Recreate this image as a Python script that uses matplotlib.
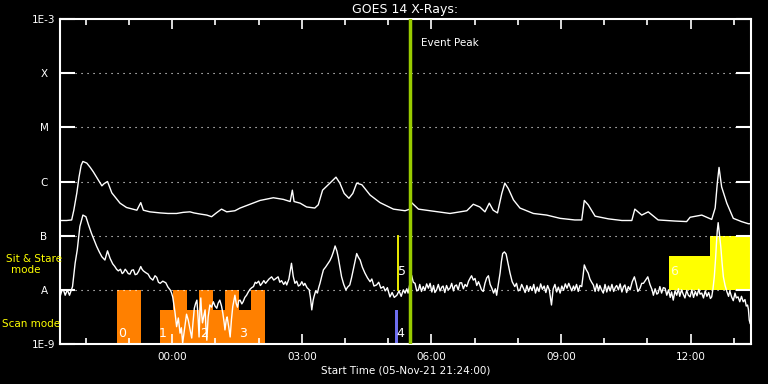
"""GOES 14 X-ray flux plot with scan / sit & stare mode blocks"""
import numpy as np
import matplotlib
matplotlib.use("Agg")
import matplotlib.pyplot as plt

# time axis: hours since start (05-Nov-21 21:24:00), 16 h shown
start_hour = 21.4
t_span = 16.0

# long channel (upper curve), log10 flux in W/m^2
long_t = [0.00, 0.15, 0.27, 0.32, 0.39, 0.44, 0.49, 0.53, 0.62, 0.70, 0.77, 0.87,
          0.97, 1.02, 1.10, 1.20, 1.39, 1.54, 1.78, 1.87, 1.93, 2.08, 2.32, 2.50,
          2.70, 2.85, 3.01, 3.10, 3.24, 3.40, 3.51, 3.62, 3.74, 3.86, 4.05, 4.17,
          4.40, 4.63, 4.94, 5.17, 5.33, 5.38, 5.42, 5.56, 5.71, 5.90, 5.98, 6.08,
          6.25, 6.39, 6.48, 6.58, 6.69, 6.78, 6.87, 6.99, 7.18, 7.41, 7.72, 7.99,
          8.10, 8.14, 8.30, 8.57, 9.03, 9.42, 9.57, 9.72, 9.84, 9.94, 10.03, 10.13,
          10.23, 10.30, 10.38, 10.50, 10.65, 10.96, 11.27, 11.58, 11.92, 12.08, 12.14, 12.23,
          12.39, 12.70, 13.01, 13.24, 13.31, 13.47, 13.62, 13.85, 14.24, 14.51, 14.59, 14.86,
          15.09, 15.17, 15.22, 15.26, 15.32, 15.44, 15.59, 15.78, 15.94, 16.00]
long_log = [-6.72, -6.72, -6.71, -6.53, -6.21, -5.92, -5.70, -5.63, -5.66, -5.74, -5.82, -5.95,
            -6.08, -6.04, -6.00, -6.21, -6.40, -6.48, -6.53, -6.39, -6.53, -6.56, -6.58, -6.59,
            -6.59, -6.57, -6.56, -6.58, -6.60, -6.62, -6.65, -6.58, -6.51, -6.56, -6.54, -6.49,
            -6.42, -6.35, -6.30, -6.33, -6.37, -6.16, -6.37, -6.40, -6.47, -6.49, -6.43, -6.16,
            -6.03, -5.92, -6.03, -6.22, -6.31, -6.22, -6.03, -6.06, -6.25, -6.39, -6.51, -6.54,
            -6.51, -6.39, -6.51, -6.54, -6.59, -6.54, -6.42, -6.47, -6.56, -6.40, -6.53, -6.58,
            -6.22, -6.03, -6.13, -6.34, -6.49, -6.59, -6.62, -6.68, -6.71, -6.71, -6.35, -6.43,
            -6.64, -6.69, -6.72, -6.72, -6.51, -6.62, -6.56, -6.71, -6.73, -6.74, -6.66, -6.62,
            -6.70, -6.49, -6.03, -5.74, -6.10, -6.40, -6.68, -6.74, -6.78, -6.78]

# short channel (lower curve), log10 flux in W/m^2
short_t = [0.00, 0.04, 0.08, 0.12, 0.17, 0.22, 0.29, 0.35, 0.40, 0.46, 0.53, 0.60,
           0.66, 0.73, 0.79, 0.85, 0.91, 0.97, 1.04, 1.10, 1.16, 1.22, 1.27, 1.31,
           1.35, 1.40, 1.44, 1.47, 1.51, 1.54, 1.58, 1.62, 1.66, 1.70, 1.74, 1.78,
           1.82, 1.87, 1.90, 1.93, 1.98, 2.04, 2.09, 2.15, 2.20, 2.24, 2.28, 2.32,
           2.38, 2.45, 2.50, 2.55, 2.58, 2.61, 2.66, 2.70, 2.74, 2.78, 2.81, 2.84,
           2.89, 2.93, 2.97, 3.01, 3.05, 3.08, 3.11, 3.14, 3.17, 3.20, 3.22, 3.24,
           3.26, 3.28, 3.30, 3.33, 3.36, 3.38, 3.40, 3.43, 3.47, 3.51, 3.55, 3.59,
           3.63, 3.66, 3.70, 3.74, 3.77, 3.80, 3.82, 3.85, 3.87, 3.91, 3.94, 3.97,
           4.00, 4.03, 4.05, 4.08, 4.11, 4.14, 4.17, 4.21, 4.24, 4.28, 4.32, 4.36,
           4.40, 4.44, 4.48, 4.52, 4.55, 4.60, 4.64, 4.67, 4.72, 4.76, 4.79, 4.84,
           4.90, 4.95, 5.00, 5.05, 5.09, 5.13, 5.18, 5.22, 5.25, 5.30, 5.36, 5.40,
           5.44, 5.48, 5.52, 5.56, 5.60, 5.64, 5.67, 5.72, 5.77, 5.80, 5.83, 5.86,
           5.88, 5.92, 5.96, 5.99, 6.02, 6.06, 6.10, 6.15, 6.21, 6.25, 6.29, 6.33,
           6.37, 6.41, 6.44, 6.48, 6.52, 6.57, 6.62, 6.66, 6.71, 6.75, 6.79, 6.83,
           6.87, 6.91, 6.95, 7.00, 7.06, 7.12, 7.18, 7.22, 7.27, 7.33, 7.38, 7.43,
           7.49, 7.53, 7.58, 7.64, 7.69, 7.74, 7.80, 7.85, 7.90, 7.95, 7.99, 8.03,
           8.06, 8.10, 8.14, 8.18, 8.22, 8.26, 8.30, 8.33, 8.37, 8.41, 8.45, 8.49,
           8.53, 8.57, 8.61, 8.65, 8.68, 8.72, 8.76, 8.80, 8.84, 8.87, 8.91, 8.95,
           8.99, 9.03, 9.07, 9.11, 9.14, 9.18, 9.22, 9.26, 9.30, 9.34, 9.38, 9.42,
           9.46, 9.50, 9.53, 9.57, 9.61, 9.65, 9.69, 9.72, 9.76, 9.80, 9.84, 9.88,
           9.92, 9.96, 10.00, 10.04, 10.08, 10.11, 10.15, 10.19, 10.22, 10.25, 10.29, 10.33,
           10.37, 10.42, 10.47, 10.53, 10.57, 10.61, 10.65, 10.69, 10.73, 10.77, 10.81, 10.85,
           10.89, 10.93, 10.97, 11.01, 11.05, 11.09, 11.13, 11.17, 11.21, 11.25, 11.29, 11.33,
           11.38, 11.42, 11.46, 11.50, 11.54, 11.58, 11.62, 11.66, 11.70, 11.74, 11.78, 11.81,
           11.85, 11.89, 11.92, 11.96, 12.00, 12.04, 12.08, 12.11, 12.14, 12.18, 12.23, 12.27,
           12.31, 12.35, 12.39, 12.43, 12.47, 12.50, 12.54, 12.58, 12.62, 12.66, 12.70, 12.74,
           12.78, 12.82, 12.86, 12.89, 12.93, 12.97, 13.01, 13.05, 13.08, 13.12, 13.16, 13.20,
           13.25, 13.30, 13.34, 13.38, 13.43, 13.47, 13.51, 13.56, 13.61, 13.66, 13.71, 13.74,
           13.78, 13.82, 13.85, 13.89, 13.93, 13.97, 14.01, 14.05, 14.09, 14.13, 14.16, 14.20,
           14.24, 14.28, 14.32, 14.35, 14.39, 14.43, 14.47, 14.51, 14.55, 14.59, 14.63, 14.67,
           14.71, 14.75, 14.79, 14.82, 14.86, 14.90, 14.94, 14.98, 15.02, 15.06, 15.09, 15.12,
           15.15, 15.18, 15.20, 15.22, 15.24, 15.27, 15.30, 15.33, 15.36, 15.40, 15.44, 15.48,
           15.51, 15.55, 15.59, 15.63, 15.66, 15.70, 15.74, 15.78, 15.82, 15.86, 15.89, 15.92,
           15.94, 15.96, 15.98]
short_log = [-8.13, -8.02, -8.00, -8.10, -8.00, -8.10, -7.94, -7.51, -7.26, -6.83, -6.62, -6.65,
             -6.80, -6.96, -7.08, -7.20, -7.30, -7.39, -7.45, -7.28, -7.42, -7.52, -7.57, -7.62,
             -7.65, -7.62, -7.70, -7.68, -7.62, -7.65, -7.70, -7.71, -7.64, -7.63, -7.72, -7.71,
             -7.66, -7.57, -7.62, -7.65, -7.68, -7.71, -7.78, -7.82, -7.74, -7.77, -7.86, -7.88,
             -7.84, -7.87, -7.95, -8.00, -8.05, -8.13, -8.40, -8.68, -8.52, -8.80, -8.70, -8.98,
             -8.68, -8.45, -8.56, -8.72, -8.89, -8.60, -8.34, -8.25, -8.19, -8.55, -8.87, -8.40,
             -8.15, -8.45, -8.61, -8.48, -8.37, -8.70, -8.93, -8.50, -8.28, -8.32, -8.22, -8.30,
             -8.34, -8.25, -8.19, -8.30, -8.43, -8.60, -8.74, -8.55, -8.50, -8.70, -8.87, -8.55,
             -8.31, -8.18, -8.10, -8.25, -8.32, -8.20, -8.19, -8.26, -8.22, -8.14, -8.10, -8.04,
             -7.99, -7.96, -7.94, -7.86, -7.88, -7.84, -7.92, -7.89, -7.83, -7.88, -7.85, -7.80,
             -7.76, -7.82, -7.79, -7.76, -7.86, -7.83, -7.90, -7.85, -7.91, -7.80, -7.51, -7.75,
             -7.88, -7.84, -7.93, -7.91, -7.85, -7.92, -7.88, -7.96, -8.00, -8.15, -8.37, -8.20,
             -8.13, -8.02, -8.06, -7.96, -7.88, -7.75, -7.63, -7.58, -7.51, -7.46, -7.39, -7.30,
             -7.19, -7.28, -7.39, -7.58, -7.76, -7.90, -8.00, -7.95, -7.91, -7.78, -7.63, -7.48,
             -7.33, -7.40, -7.45, -7.58, -7.69, -7.78, -7.85, -7.80, -7.93, -7.91, -7.86, -7.97,
             -7.94, -8.02, -7.96, -8.13, -8.05, -8.14, -8.10, -8.02, -8.12, -8.00, -8.06, -7.98,
             -8.06, -7.90, -7.73, -7.86, -7.88, -8.02, -8.00, -7.90, -8.03, -7.94, -8.01, -7.89,
             -7.97, -7.88, -8.04, -7.92, -8.05, -8.00, -7.90, -8.02, -7.95, -7.93, -8.05, -7.92,
             -8.00, -7.97, -7.88, -8.02, -7.93, -7.91, -8.00, -7.87, -7.87, -7.98, -7.90, -7.94,
             -7.84, -7.78, -7.74, -7.82, -7.79, -7.92, -7.85, -7.91, -8.00, -8.03, -7.88, -7.78,
             -7.74, -7.90, -7.97, -8.06, -7.98, -8.10, -7.90, -7.69, -7.48, -7.33, -7.30, -7.34,
             -7.50, -7.69, -7.85, -7.94, -7.88, -8.02, -8.00, -7.90, -7.97, -8.05, -7.92, -8.03,
             -7.94, -8.01, -7.90, -8.06, -7.95, -8.03, -7.89, -7.99, -7.93, -8.05, -7.92, -8.00,
             -8.28, -7.98, -7.90, -8.04, -7.95, -8.06, -7.93, -8.01, -7.89, -7.97, -7.88, -7.94,
             -8.02, -7.93, -8.00, -7.90, -8.03, -7.92, -7.94, -7.75, -7.54, -7.62, -7.69, -7.80,
             -7.86, -7.91, -8.03, -7.89, -8.02, -7.92, -8.00, -8.06, -7.90, -8.04, -7.93, -8.02,
             -7.90, -8.03, -7.95, -7.92, -8.00, -7.89, -8.04, -7.94, -7.91, -8.05, -7.94, -8.00,
             -7.85, -7.76, -7.88, -8.03, -7.97, -7.88, -7.88, -7.82, -7.76, -7.90, -8.00, -8.10,
             -7.98, -8.08, -8.06, -7.94, -8.06, -7.96, -7.97, -8.10, -8.00, -8.14, -8.04, -8.19,
             -8.02, -8.10, -7.98, -8.12, -8.00, -8.08, -8.15, -8.01, -8.10, -8.13, -8.00, -8.14,
             -8.03, -8.11, -7.99, -8.08, -8.06, -8.15, -8.02, -8.12, -8.05, -8.16, -8.13, -7.98,
             -7.76, -7.42, -7.14, -6.90, -6.76, -6.98, -7.20, -7.50, -7.76, -7.92, -8.03, -8.12,
             -8.02, -8.13, -8.20, -8.06, -8.15, -8.13, -8.22, -8.12, -8.22, -8.18, -8.30, -8.28,
             -8.36, -8.56, -8.62]

# scan mode blocks (orange): start, end (hours), top (log10 flux)
scan_start = [1.32, 2.315, 2.616, 2.94, 3.22, 3.54, 3.82, 4.14, 4.42]
scan_end = [1.875, 2.616, 2.94, 3.22, 3.54, 3.82, 4.14, 4.42, 4.75]
scan_top = [-8.0, -8.37, -8.0, -8.37, -8.0, -8.37, -8.0, -8.37, -8.0]
scan_ids = ["0", "1", "2", "3"]
scan_id_t = [1.44, 2.38, 3.33, 4.24]

# blue scan 4
blue_start, blue_end, blue_top = 7.76, 7.82, -8.37

# sit & stare blocks (yellow): start, end, bottom, top
stare_start = [14.10, 15.05]
stare_end = [15.05, 16.05]
stare_bottom = [-8.0, -8.0]
stare_top = [-7.38, -7.0]

# sit & stare 5 (thin yellow line)
stare5_t = 7.83
event_peak_t = 8.10

level_labels = ["1E-9", "A", "B", "C", "M", "X", "1E-3"]

fig = plt.figure(figsize=(7.68, 3.84), dpi=100, facecolor="black")
ax = fig.add_axes([60 / 768, 40 / 384, 691 / 768, 325 / 384])
ax.set_facecolor("black")
ax.set_yscale("log")
ax.set_xlim(0, t_span)
ax.set_ylim(1e-9, 1e-3)

orange = "#FF8000"
for s, e, top in zip(scan_start, scan_end, scan_top):
    ax.bar(s, 10 ** top - 1e-9, width=e - s, bottom=1e-9, align="edge",
           color=orange, linewidth=0, zorder=1)
ax.bar(blue_start, 10 ** blue_top - 1e-9, width=blue_end - blue_start, bottom=1e-9,
       align="edge", color="#6F6FEF", linewidth=0, zorder=1)
for s, e, b, top in zip(stare_start, stare_end, stare_bottom, stare_top):
    ax.bar(s, 10 ** top - 10 ** b, width=e - s, bottom=10 ** b, align="edge",
           color="#FFFF00", linewidth=0, zorder=1, clip_on=True)

# dotted level lines
for lev in range(-8, -3):
    ax.axhline(10.0 ** lev, xmin=15 / 691, xmax=1 - 15 / 691, color="white",
               lw=0.8, ls=(0, (1, 4.4)), zorder=2)

ax.plot(long_t, 10 ** np.array(long_log), color="white", lw=1, zorder=3)
ax.plot(short_t, 10 ** np.array(short_log), color="white", lw=1, zorder=3)

ax.plot([stare5_t, stare5_t], [1e-8, 1e-7], color="#FFFF00", lw=1.3, zorder=4)
ax.axvline(event_peak_t, color="#99CC00", lw=2.5, zorder=4)
ax.text(event_peak_t + 0.25, 10 ** -3.45, "Event Peak", color="white",
        fontsize=7.5, va="center", ha="left")

for lab, t in zip(scan_ids, scan_id_t):
    ax.text(t, 10 ** -8.8, lab, color="white", fontsize=9, ha="center", va="center", zorder=5)
ax.text(7.87, 10 ** -8.8, "4", color="white", fontsize=9, ha="center", va="center", zorder=5)
ax.text(7.92, 10 ** -7.67, "5", color="white", fontsize=9, ha="center", va="center", zorder=5)
ax.text(14.22, 10 ** -7.67, "6", color="#FFFFD0", fontsize=9, ha="center", va="center", zorder=5)

# axes styling
for sp in ax.spines.values():
    sp.set_color("white")
    sp.set_linewidth(1.5)
ax.set_yticks([10.0 ** p for p in range(-9, -2)])
ax.set_yticklabels(level_labels, ha="center")
ax.yaxis.set_minor_locator(matplotlib.ticker.NullLocator())
ax.tick_params(axis="y", which="major", direction="in", length=11, width=1.5,
               colors="white", left=True, right=True, labelsize=7.5, pad=11.5)

first_midnight = 24 - start_hour
major_t = [first_midnight + 3 * k for k in range(5)]
major_lab = ["00:00", "03:00", "06:00", "09:00", "12:00"]
minor_t = [first_midnight - 2 + k for k in range(16)]
ax.set_xticks(major_t)
ax.set_xticklabels(major_lab)
ax.set_xticks(minor_t, minor=True)
ax.tick_params(axis="x", which="major", direction="in", length=7, width=1.2,
               colors="white", top=True, bottom=True, labelsize=7.5, pad=6)
ax.tick_params(axis="x", which="minor", direction="in", length=4, width=1.2,
               colors="white", top=True, bottom=True)
ax.set_xlabel("Start Time (05-Nov-21 21:24:00)", color="white", fontsize=7.5, labelpad=2)

fig.text(405 / 768, 1 - 10 / 384, "GOES 14 X-Rays:", color="white", fontsize=9,
         ha="center", va="center")
fig.text(34 / 768, 1 - 259 / 384, "Sit & Stare", color="#FFFF00", fontsize=7.5,
         ha="center", va="center")
fig.text(26 / 768, 1 - 270 / 384, "mode", color="#FFFF00", fontsize=7.5,
         ha="center", va="center")
fig.text(2 / 768, 1 - 324 / 384, "Scan mode", color="#FFFF00", fontsize=7.5,
         ha="left", va="center")

fig.savefig("out.png", dpi=100, facecolor="black")
